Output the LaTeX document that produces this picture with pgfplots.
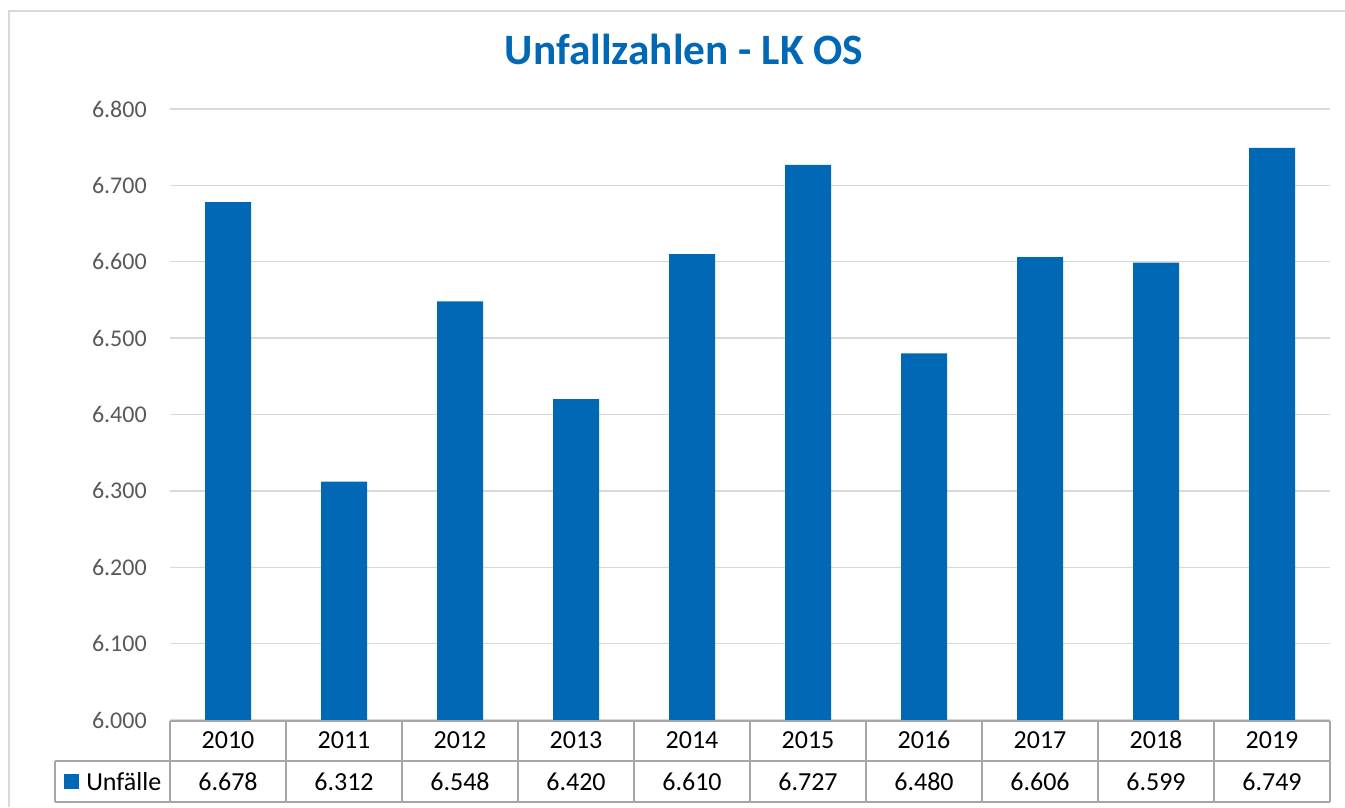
\documentclass[border=0pt]{standalone}
\usepackage{pgfplots}
\pgfplotsset{compat=1.18}
\usepackage{fontspec}
\setmainfont{Carlito}
\definecolor{barblue}{RGB}{0,104,180}
\definecolor{gridgray}{RGB}{217,217,217}
\definecolor{tblgray}{RGB}{166,166,166}
\definecolor{ticktext}{RGB}{89,89,89}
\newcommand{\yl}{\rule{0pt}{13pt}}
\begin{document}
\begin{tikzpicture}[x=0.75pt,y=0.75pt]
\useasboundingbox (0,0) rectangle (1345,807);
\draw[gridgray, line width=1pt] (9,0) -- (9,796) -- (1345,796);
\node[anchor=base, font=\fontsize{32.5}{38}\selectfont\bfseries, text=barblue, inner sep=0pt] at (684,742.5) {Unfallzahlen - LK OS};
\begin{axis}[
  at={(127.5pt,65.25pt)}, anchor=south west,
  scale only axis, width=870pt, height=458.25pt,
  xmin=-0.5, xmax=9.5, ymin=6000, ymax=6800,
  ytick={6000,6100,6200,6300,6400,6500,6600,6700,6800},
  xtick={0,1,2,3,4,5,6,7,8,9},
  xticklabels={{\yl 2010\\6.678},{\yl 2011\\6.312},{\yl 2012\\6.548},{\yl 2013\\6.420},{\yl 2014\\6.610},{\yl 2015\\6.727},{\yl 2016\\6.480},{\yl 2017\\6.606},{\yl 2018\\6.599},{\yl 2019\\6.749}},
  xticklabel style={align=center, font=\fontsize{19.5}{31.5}\selectfont, inner sep=0pt, anchor=north, yshift=-8pt, text=black},
  yticklabel style={font=\fontsize{18}{20}\selectfont, text=ticktext, inner sep=0pt, anchor=east, xshift=-17.25pt,
    /pgf/number format/.cd, fixed, precision=0, 1000 sep={.}, assume math mode=true},
  scaled y ticks=false,
  axis line style={draw=none},
  major tick length=0pt,
  ymajorgrids, grid style={gridgray, line width=1pt},
  clip=true,
]
\addplot[ybar, bar width=34.5pt, fill=barblue, draw=none] coordinates {
  (0,6678) (1,6312) (2,6548) (3,6420) (4,6610) (5,6727) (6,6480) (7,6606) (8,6599) (9,6749)
};
\end{axis}
\begin{scope}[tblgray, line width=0.9pt]
\draw (170,86) -- (1330,86);
\draw (55,46) -- (1330,46);
\draw (55,5) -- (1330,5);
\draw (55,5) -- (55,46);
\foreach \i in {0,...,10} \draw (170+116*\i,5) -- (170+116*\i,86);
\end{scope}
\fill[barblue] (64,18.3) rectangle (78.7,33);
\node[anchor=base west, inner sep=0pt, font=\fontsize{19.5}{24}\selectfont] at (86,17) {Unfälle};
\end{tikzpicture}
\end{document}
